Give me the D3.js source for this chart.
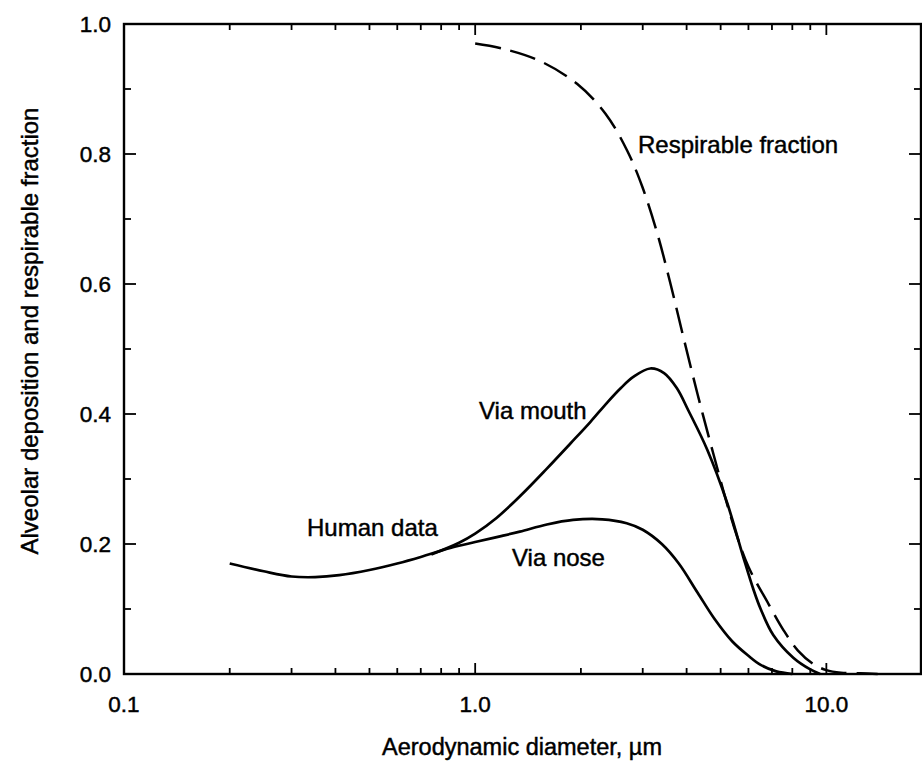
<!DOCTYPE html>
<html>
<head>
<meta charset="utf-8">
<script src="https://cdn.jsdelivr.net/npm/d3@7"></script>
<style>
  body { margin: 0; background: #fff; }
  svg text { font-family: "Liberation Sans", Arial, sans-serif; fill: #000; stroke: #000; stroke-width: 0.45px; }
</style>
</head>
<body>
<svg id="chart" width="922" height="761"></svg>
<script>
// deposition curves, diameters in µm
const humanNose = [
  [0.2, 0.17], [0.25, 0.158], [0.3, 0.15], [0.35, 0.149], [0.41, 0.152],
  [0.5, 0.16], [0.6, 0.17], [0.7, 0.18], [0.85, 0.194], [1.0, 0.203],
  [1.16, 0.211], [1.34, 0.219], [1.6, 0.23], [1.9, 0.237], [2.3, 0.238],
  [2.7, 0.232], [3.0, 0.222], [3.4, 0.2], [3.8, 0.17], [4.3, 0.125],
  [4.8, 0.085], [5.4, 0.05], [6.0, 0.028], [6.5, 0.014], [7.2, 0.004], [8.0, 0.0]
];
const viaMouth = [
  [0.75, 0.184], [0.9, 0.202], [1.0, 0.216], [1.15, 0.24], [1.35, 0.275],
  [1.6, 0.316], [1.87, 0.355], [2.13, 0.388], [2.38, 0.418], [2.6, 0.44],
  [2.82, 0.457], [3.15, 0.47], [3.45, 0.463], [3.75, 0.44], [4.05, 0.405],
  [4.58, 0.345], [5.22, 0.263], [5.8, 0.18], [6.2, 0.13], [6.5, 0.1],
  [7.06, 0.06], [8.05, 0.025], [9.0, 0.007], [9.6, 0.0]
];
const respirable = [
  [1.0, 0.97], [1.2, 0.962], [1.53, 0.943], [1.95, 0.908], [2.35, 0.862],
  [2.71, 0.805], [2.99, 0.75], [3.3, 0.678], [3.6, 0.6], [3.91, 0.52],
  [4.3, 0.43], [4.76, 0.34], [5.43, 0.23], [6.0, 0.165], [6.84, 0.108],
  [7.54, 0.068], [8.3, 0.036], [9.2, 0.015], [10, 0.006], [11, 0.002],
  [12.5, 0.001], [14, 0.0]
];
const xMajor = [0.1, 1, 10];
const yMajor = [0, 0.2, 0.4, 0.6, 0.8, 1.0];
const yMinor = [0.1, 0.3, 0.5, 0.7, 0.9];

const svg = d3.select("#chart");
const margin = { top: 24, right: 1, bottom: 87, left: 124 };
const width = 922 - margin.left - margin.right;
const height = 761 - margin.top - margin.bottom;

const x = d3.scaleLog().domain([0.1, 18.6]).range([0, width]);
const y = d3.scaleLinear().domain([0, 1]).range([height, 0]);

const g = svg.append("g").attr("transform", `translate(${margin.left},${margin.top})`);

// minor x ticks: 2..9 of each decade inside the domain
const xMinor = [];
[0.1, 1, 10].forEach(dec => {
  for (let k = 2; k <= 9; k++) {
    const v = dec * k;
    if (v < x.domain()[1]) xMinor.push(v);
  }
});

const line = d3.line()
  .x(d => x(d[0]))
  .y(d => Math.min(y(d[1]), height))
  .curve(d3.curveCatmullRom.alpha(0.5));

g.append("path").datum(humanNose).attr("d", line)
  .attr("fill", "none").attr("stroke", "#000").attr("stroke-width", 2.7);
g.append("path").datum(viaMouth).attr("d", line)
  .attr("fill", "none").attr("stroke", "#000").attr("stroke-width", 2.7);
g.append("path").datum(respirable).attr("d", line)
  .attr("fill", "none").attr("stroke", "#000").attr("stroke-width", 2.5)
  .attr("stroke-dasharray", "26,10");

// frame
g.append("rect").attr("width", width).attr("height", height)
  .attr("fill", "none").attr("stroke", "#000").attr("stroke-width", 2.4);

// inward ticks on all four sides
const tickStyle = sel => sel.attr("stroke", "#000").attr("stroke-width", 1.8);
function xTicks(vals, len) {
  g.selectAll(null).data(vals).enter().append("line")
    .attr("x1", d => x(d)).attr("x2", d => x(d))
    .attr("y1", height).attr("y2", height - len).call(tickStyle);
  g.selectAll(null).data(vals).enter().append("line")
    .attr("x1", d => x(d)).attr("x2", d => x(d))
    .attr("y1", 0).attr("y2", len).call(tickStyle);
}
function yTicks(vals, len) {
  g.selectAll(null).data(vals).enter().append("line")
    .attr("y1", d => y(d)).attr("y2", d => y(d))
    .attr("x1", 0).attr("x2", len).call(tickStyle);
  g.selectAll(null).data(vals).enter().append("line")
    .attr("y1", d => y(d)).attr("y2", d => y(d))
    .attr("x1", width).attr("x2", width - len).call(tickStyle);
}
xTicks(xMajor, 11);
xTicks(xMinor, 6);
yTicks(yMajor, 12);
yTicks(yMinor, 7);

// tick labels
g.selectAll(null).data(xMajor).enter().append("text")
  .attr("x", d => x(d)).attr("y", height + 38)
  .attr("text-anchor", "middle").attr("font-size", 22.5)
  .text(d => d3.format(".1f")(d));
g.selectAll(null).data(yMajor).enter().append("text")
  .attr("x", -13).attr("y", d => y(d) + 8)
  .attr("text-anchor", "end").attr("font-size", 22.5)
  .text(d => d3.format(".1f")(d));

// axis titles
svg.append("text")
  .attr("x", 522).attr("y", 755)
  .attr("text-anchor", "middle").attr("font-size", 23.5)
  .text("Aerodynamic diameter, µm");
svg.append("text")
  .attr("transform", "translate(38,331) rotate(-90)")
  .attr("text-anchor", "middle").attr("font-size", 24)
  .text("Alveolar deposition and respirable fraction");

// curve annotations
const notes = [
  { t: "Respirable fraction", x: 638, y: 153 },
  { t: "Via mouth", x: 479, y: 419 },
  { t: "Human data", x: 307, y: 536 },
  { t: "Via nose", x: 512, y: 566 }
];
svg.selectAll(null).data(notes).enter().append("text")
  .attr("x", d => d.x).attr("y", d => d.y)
  .attr("font-size", 24)
  .text(d => d.t);
</script>
</body>
</html>
